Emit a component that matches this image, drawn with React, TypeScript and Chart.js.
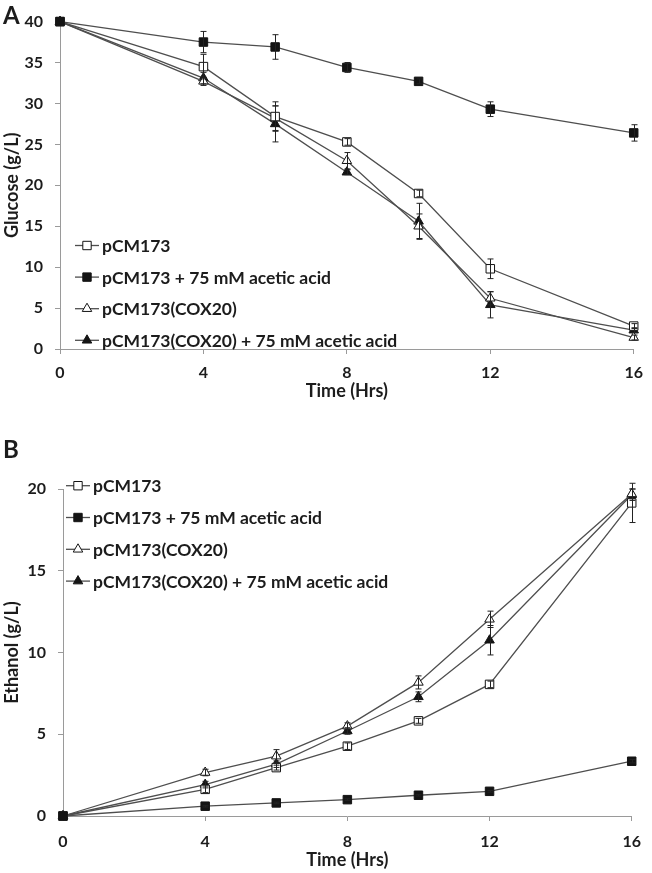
import React, { useEffect, useRef } from 'react';
import { Chart, registerables } from 'chart.js';

Chart.register(...registerables);

// ---------- data ----------
const times = [0, 4, 6, 8, 10, 12, 16];
const seriesNames = [
  'pCM173',
  'pCM173 + 75 mM acetic acid',
  'pCM173(COX20)',
  'pCM173(COX20) + 75 mM acetic acid',
];
const drawOrder = [1, 0, 2, 3];

// Panel A: glucose (g/L)
const glucoseCtrl = [40, 34.5, 28.4, 25.3, 19.0, 9.8, 2.8];
const glucoseCtrlErr = [0, 1.5, 1.8, 0.4, 0.4, 1.2, 0.3];
const glucoseCtrlAcid = [40, 37.5, 36.9, 34.4, 32.7, 29.3, 26.4];
const glucoseCtrlAcidErr = [0, 1.3, 1.5, 0.6, 0.3, 0.9, 1.0];
const glucoseCox = [40, 32.7, 28.2, 23.0, 15.0, 6.2, 1.4];
const glucoseCoxErr = [0, 0.5, 1.5, 1.0, 1.5, 0.8, 0.3];
const glucoseCoxAcid = [40, 33.1, 27.5, 21.6, 15.6, 5.4, 2.3];
const glucoseCoxAcidErr = [0, 0.7, 2.2, 0.3, 2.2, 1.6, 0.3];

// Panel B: ethanol (g/L)
const ethanolCtrl = [0, 1.63, 2.96, 4.27, 5.82, 8.05, 19.15];
const ethanolCtrlErr = [0, 0.2, 0.15, 0.2, 0.15, 0.2, 1.2];
const ethanolCtrlAcid = [0, 0.6, 0.8, 1.0, 1.27, 1.51, 3.35];
const ethanolCtrlAcidErr = [0, 0.05, 0.05, 0.05, 0.05, 0.05, 0.1];
const ethanolCox = [0, 2.66, 3.66, 5.5, 8.17, 12.03, 19.7];
const ethanolCoxErr = [0, 0.2, 0.4, 0.2, 0.4, 0.5, 0.3];
const ethanolCoxAcid = [0, 1.92, 3.17, 5.2, 7.29, 10.75, 19.65];
const ethanolCoxAcidErr = [0, 0.2, 0.2, 0.2, 0.3, 0.9, 0.35];

// ---------- styles ----------
const FONT = 'Lato, "Open Sans", sans-serif';
const TEXT = '#1c1c1c';
const AXIS = '#9a9a9a';
const LINE = '#4e4e4e';
const MARK = '#141414';
const styles = [
  { shape: 'rect', fill: '#ffffff' },
  { shape: 'rect', fill: MARK },
  { shape: 'triangle', fill: '#ffffff' },
  { shape: 'triangle', fill: MARK },
];

function drawMarker(ctx: CanvasRenderingContext2D, shape: string, fill: string, x: number, y: number) {
  ctx.save();
  ctx.beginPath();
  if (shape === 'rect') {
    const h = 4.2;
    ctx.rect(x - h, y - h, 2 * h, 2 * h);
  } else {
    const r = 5.5;
    for (let i = 0; i < 3; i++) {
      const a = (i * 2 * Math.PI) / 3;
      const px = x + Math.sin(a) * r;
      const py = y - Math.cos(a) * r;
      if (i === 0) ctx.moveTo(px, py);
      else ctx.lineTo(px, py);
    }
    ctx.closePath();
  }
  ctx.fillStyle = fill;
  ctx.fill();
  ctx.lineWidth = 1;
  ctx.strokeStyle = MARK;
  ctx.stroke();
  ctx.restore();
}

type PanelProps = {
  series: number[][];
  errors: number[][];
  yMax: number;
  yTitle: string;
  height: number;
  padTop: number;
  yWidth: number;
  xHeight: number;
  xTickPad: number;
  xTitlePad: number;
  legendX: number;
  legendY: number;
  legendGap: number;
};

function Panel(p: PanelProps) {
  const ref = useRef<HTMLCanvasElement | null>(null);
  useEffect(() => {
    if (!ref.current) return;
    const errorBars = {
      id: 'errorBars',
      afterDatasetsDraw(chart: any) {
        const ctx = chart.ctx;
        const xs = chart.scales.x;
        const ys = chart.scales.y;
        ctx.save();
        ctx.strokeStyle = '#222';
        ctx.lineWidth = 1;
        p.series.forEach((vals, si) => {
          vals.forEach((v, i) => {
            const e = p.errors[si][i];
            if (!e) return;
            const x = Math.round(xs.getPixelForValue(times[i])) + 0.5;
            const y1 = ys.getPixelForValue(v + e);
            const y2 = ys.getPixelForValue(v - e);
            ctx.beginPath();
            ctx.moveTo(x, y1);
            ctx.lineTo(x, y2);
            ctx.moveTo(x - 3, y1);
            ctx.lineTo(x + 3, y1);
            ctx.moveTo(x - 3, y2);
            ctx.lineTo(x + 3, y2);
            ctx.stroke();
          });
        });
        ctx.restore();
      },
    };
    const legend = {
      id: 'customLegend',
      afterDraw(chart: any) {
        const ctx = chart.ctx;
        ctx.save();
        ctx.font = `bold 17.5px ${FONT}`;
        ctx.fillStyle = TEXT;
        ctx.textBaseline = 'middle';
        seriesNames.forEach((name, i) => {
          const y = p.legendY + i * p.legendGap;
          const x0 = p.legendX;
          ctx.strokeStyle = LINE;
          ctx.lineWidth = 1.3;
          ctx.beginPath();
          ctx.moveTo(x0, y);
          ctx.lineTo(x0 + 24, y);
          ctx.stroke();
          drawMarker(ctx, styles[i].shape, styles[i].fill, x0 + 12, y);
          ctx.fillStyle = TEXT;
          ctx.fillText(name, x0 + 27, y + 1);
        });
        ctx.restore();
      },
    };
    const chart = new Chart(ref.current, {
      type: 'line',
      data: {
        datasets: p.series.map((vals, si) => ({
          label: seriesNames[si],
          data: vals.map((v, i) => ({ x: times[i], y: v })),
          order: drawOrder[si],
          borderColor: LINE,
          borderWidth: 1.3,
          pointStyle: styles[si].shape as any,
          pointRadius: styles[si].shape === 'rect' ? 6 : 5.5,
          pointBackgroundColor: styles[si].fill,
          pointBorderColor: MARK,
          pointBorderWidth: 1,
          tension: 0,
          clip: false as any,
        })),
      },
      options: {
        animation: false,
        responsive: false,
        maintainAspectRatio: false,
        layout: { padding: { top: p.padTop, right: 13, left: 0, bottom: 0 } },
        plugins: { legend: { display: false }, tooltip: { enabled: false } },
        scales: {
          x: {
            type: 'linear',
            min: 0,
            max: 16,
            afterFit: (s: any) => {
              s.height = p.xHeight;
            },
            ticks: {
              stepSize: 4,
              padding: p.xTickPad,
              color: TEXT,
              font: { family: FONT, size: 16, weight: 'bold' },
            },
            grid: { drawOnChartArea: false, drawTicks: true, tickLength: 5, color: AXIS },
            border: { display: true, color: AXIS, width: 1 },
            title: {
              display: true,
              text: 'Time (Hrs)',
              color: TEXT,
              font: { family: FONT, size: 18, weight: 'bold' },
              padding: { top: 0, bottom: p.xTitlePad },
            },
          },
          y: {
            type: 'linear',
            min: 0,
            max: p.yMax,
            afterFit: (s: any) => {
              s.width = p.yWidth;
            },
            ticks: {
              stepSize: 5,
              padding: 12,
              color: TEXT,
              font: { family: FONT, size: 16, weight: 'bold' },
            },
            grid: { drawOnChartArea: false, drawTicks: true, tickLength: 5, color: AXIS },
            border: { display: true, color: AXIS, width: 1 },
            title: {
              display: true,
              text: p.yTitle,
              color: TEXT,
              font: { family: FONT, size: 18, weight: 'bold' },
              padding: { top: 1, bottom: 0 },
            },
          },
        },
      },
      plugins: [errorBars, legend],
    });
    return () => chart.destroy();
  }, []);
  return <canvas ref={ref} width={652} height={p.height} style={{ display: 'block', width: 652, height: p.height }} />;
}

const labelStyle: React.CSSProperties = {
  position: 'absolute',
  fontFamily: FONT,
  fontWeight: 700,
  fontSize: 24,
  color: TEXT,
  lineHeight: '1',
};

export default function App() {
  return (
    <div style={{ position: 'absolute', left: 0, top: 0, width: 652, height: 873, background: '#fff' }}>
      <div style={{ position: 'absolute', left: 0, top: 0 }}>
        <Panel
          series={[glucoseCtrl, glucoseCtrlAcid, glucoseCox, glucoseCoxAcid]}
          errors={[glucoseCtrlErr, glucoseCtrlAcidErr, glucoseCoxErr, glucoseCoxAcidErr]}
          yMax={40}
          yTitle="Glucose (g/L)"
          height={420}
          padTop={9}
          yWidth={60}
          xHeight={71}
          xTickPad={9}
          xTitlePad={18}
          legendX={75}
          legendY={245.5}
          legendGap={31.6}
        />
      </div>
      <div style={{ position: 'absolute', left: 0, top: 420 }}>
        <Panel
          series={[ethanolCtrl, ethanolCtrlAcid, ethanolCox, ethanolCoxAcid]}
          errors={[ethanolCtrlErr, ethanolCtrlAcidErr, ethanolCoxErr, ethanolCoxAcidErr]}
          yMax={20}
          yTitle="Ethanol (g/L)"
          height={453}
          padTop={69}
          yWidth={63}
          xHeight={57}
          xTickPad={11}
          xTitlePad={2}
          legendX={66}
          legendY={65.7}
          legendGap={31.8}
        />
      </div>
      <div style={{ ...labelStyle, left: 3, top: 3 }}>A</div>
      <div style={{ ...labelStyle, left: 3, top: 437 }}>B</div>
    </div>
  );
}
